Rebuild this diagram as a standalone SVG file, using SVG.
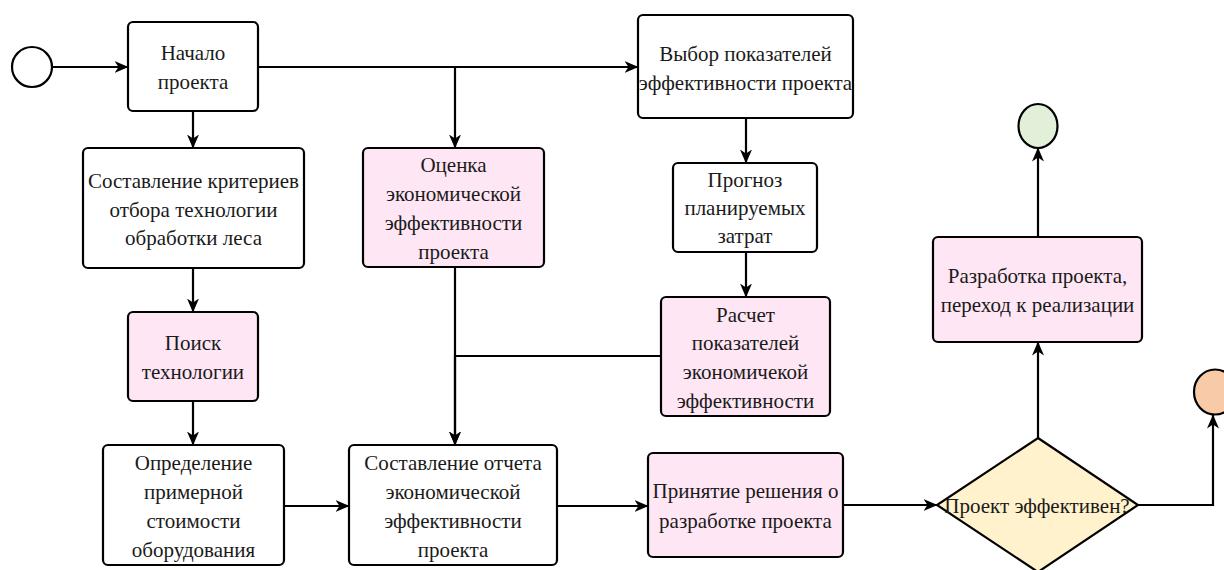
<svg xmlns="http://www.w3.org/2000/svg" width="1224" height="570" viewBox="0 0 1224 570">
  <defs>
    <marker id="arrow" viewBox="0 0 14 12" refX="13.5" refY="6" markerWidth="14" markerHeight="12" markerUnits="userSpaceOnUse" orient="auto">
      <path d="M0,0 L14,6 L0,12 L4,6 Z" fill="#000"/>
    </marker>
    <style>
      .box { stroke: #000; stroke-width: 2.2; }
      .plain { fill: #ffffff; }
      .pink { fill: #ffe6f4; }
      .edge { fill: none; stroke: #000; stroke-width: 2.2; }
      .arr { marker-end: url(#arrow); }
      .lbl { font-family: "Liberation Serif", serif; font-size: 21px; fill: #1a1a1a; text-anchor: middle; }
    </style>
  </defs>
  <rect width="1224" height="570" fill="#ffffff"/>

  <!-- connectors -->
  <g id="connectors">
    <path class="edge arr" d="M52,67 L128,67"/>
    <path class="edge arr" d="M258,67 L455,67 L455,148"/>
    <path class="edge arr" d="M258,67 L638,67"/>
    <path class="edge arr" d="M193,111 L193,148"/>
    <path class="edge arr" d="M193,268 L193,312"/>
    <path class="edge arr" d="M193,401 L193,445"/>
    <path class="edge arr" d="M746,118 L746,163"/>
    <path class="edge arr" d="M746,252 L746,297"/>
    <path class="edge arr" d="M455,267 L455,445"/>
    <path class="edge arr" d="M661,356 L455,356 L455,445"/>
    <path class="edge arr" d="M284,506 L349,506"/>
    <path class="edge arr" d="M557,506 L648,506"/>
    <path class="edge arr" d="M843,505 L937,505"/>
    <path class="edge arr" d="M1038,438 L1038,342"/>
    <path class="edge arr" d="M1038,237 L1038,148"/>
    <path class="edge arr" d="M1138,505 L1213,505 L1213,415"/>
  </g>

  <!-- events -->
  <g id="start"><circle cx="32" cy="67" r="20" fill="#ffffff" class="box"/></g>
  <g id="end-ok"><ellipse cx="1038" cy="126" rx="19.5" ry="22" fill="#e2efd9" class="box"/></g>
  <g id="end-stop"><ellipse cx="1215" cy="392" rx="21" ry="22.5" fill="#f8caa8" class="box"/></g>

  <!-- tasks -->
  <g id="n-start-project">
    <rect x="128" y="22" width="130" height="89" rx="5" class="box plain"/>
    <text class="lbl" x="193" y="60" font-family="Liberation Serif">Начало</text>
    <text class="lbl" x="193" y="89" font-family="Liberation Serif">проекта</text>
  </g>
  <g id="n-criteria">
    <rect x="83" y="148" width="221" height="120" rx="5" class="box plain"/>
    <text class="lbl" x="193.5" y="188" font-family="Liberation Serif">Составление критериев</text>
    <text class="lbl" x="193.5" y="217" font-family="Liberation Serif">отбора технологии</text>
    <text class="lbl" x="193.5" y="245" font-family="Liberation Serif">обработки леса</text>
  </g>
  <g id="n-search">
    <rect x="128" y="312" width="130" height="89" rx="5" class="box pink"/>
    <text class="lbl" x="193" y="350" font-family="Liberation Serif">Поиск</text>
    <text class="lbl" x="193" y="379" font-family="Liberation Serif">технологии</text>
  </g>
  <g id="n-cost">
    <rect x="103" y="445" width="181" height="120" rx="5" class="box plain"/>
    <text class="lbl" x="193.5" y="470" font-family="Liberation Serif">Определение</text>
    <text class="lbl" x="193.5" y="499" font-family="Liberation Serif">примерной</text>
    <text class="lbl" x="193.5" y="528" font-family="Liberation Serif">стоимости</text>
    <text class="lbl" x="193.5" y="557" font-family="Liberation Serif">оборудования</text>
  </g>
  <g id="n-evaluation">
    <rect x="363" y="148" width="181" height="119" rx="5" class="box pink"/>
    <text class="lbl" x="453.5" y="172" font-family="Liberation Serif">Оценка</text>
    <text class="lbl" x="453.5" y="201" font-family="Liberation Serif">экономической</text>
    <text class="lbl" x="453.5" y="230" font-family="Liberation Serif">эффективности</text>
    <text class="lbl" x="453.5" y="259" font-family="Liberation Serif">проекта</text>
  </g>
  <g id="n-report">
    <rect x="349" y="445" width="208" height="120" rx="5" class="box plain"/>
    <text class="lbl" x="453" y="470" font-family="Liberation Serif">Составление отчета</text>
    <text class="lbl" x="453" y="499" font-family="Liberation Serif">экономической</text>
    <text class="lbl" x="453" y="528" font-family="Liberation Serif">эффективности</text>
    <text class="lbl" x="453" y="557" font-family="Liberation Serif">проекта</text>
  </g>
  <g id="n-indicators">
    <rect x="638" y="15" width="215" height="103" rx="5" class="box plain"/>
    <text class="lbl" x="745.5" y="61" font-family="Liberation Serif">Выбор показателей</text>
    <text class="lbl" x="745.5" y="90" font-family="Liberation Serif">эффективности проекта</text>
  </g>
  <g id="n-forecast">
    <rect x="673" y="163" width="144" height="89" rx="5" class="box plain"/>
    <text class="lbl" x="745" y="187" font-family="Liberation Serif">Прогноз</text>
    <text class="lbl" x="745" y="215" font-family="Liberation Serif">планируемых</text>
    <text class="lbl" x="745" y="243" font-family="Liberation Serif">затрат</text>
  </g>
  <g id="n-calc">
    <rect x="661" y="297" width="169" height="119" rx="5" class="box pink"/>
    <text class="lbl" x="745.5" y="322" font-family="Liberation Serif">Расчет</text>
    <text class="lbl" x="745.5" y="350" font-family="Liberation Serif">показателей</text>
    <text class="lbl" x="745.5" y="379" font-family="Liberation Serif">экономичекой</text>
    <text class="lbl" x="745.5" y="408" font-family="Liberation Serif">эффективности</text>
  </g>
  <g id="n-decision">
    <rect x="648" y="453" width="195" height="104" rx="5" class="box pink"/>
    <text class="lbl" x="745.5" y="498" font-family="Liberation Serif">Принятие решения о</text>
    <text class="lbl" x="745.5" y="528" font-family="Liberation Serif">разработке проекта</text>
  </g>
  <g id="n-gateway">
    <polygon points="1038,438 1138,505 1038,572 937,505" fill="#fff2cc" class="box"/>
    <text class="lbl" x="1037" y="513" font-family="Liberation Serif">Проект эффективен?</text>
  </g>
  <g id="n-development">
    <rect x="933" y="237" width="209" height="105" rx="5" class="box pink"/>
    <text class="lbl" x="1037.5" y="283" font-family="Liberation Serif">Разработка проекта,</text>
    <text class="lbl" x="1037.5" y="312" font-family="Liberation Serif">переход к реализации</text>
  </g>
</svg>
